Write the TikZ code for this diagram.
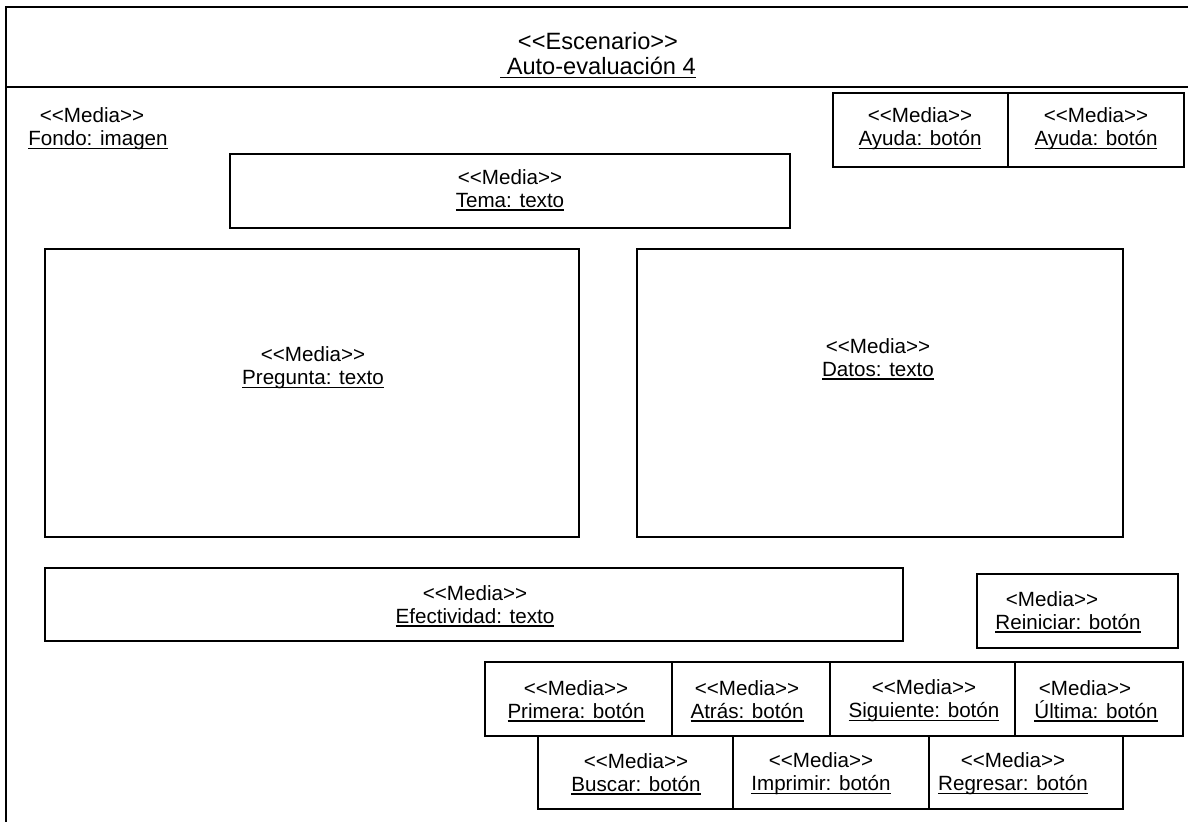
\documentclass[tikz,border=0pt]{standalone}
\usepackage{fontspec}
\setmainfont{Liberation Sans}[Ligatures=TeXOff]
\usetikzlibrary{fit}
% stereotype label and underlined element name
\newcommand{\stereo}{<<Media>>}
\newcommand{\elname}[1]{\setbox0\hbox{#1}\rlap{\rule[-1.7pt]{\wd0}{0.6pt}}\box0}
\begin{document}
\begin{tikzpicture}[x=0.5pt,y=-0.5pt,
  frame/.style={draw=black, line width=1pt},
  box/.style={draw=black, line width=0.9pt, inner sep=0pt, rectangle},
  txt/.style={align=center, inner sep=0pt, font=\fontsize{10.3}{11.5}\selectfont},
  head/.style={align=center, inner sep=0pt, font=\fontsize{11.8}{12.5}\selectfont}]
\useasboundingbox (0,0) rectangle (1188,822);
\clip (0,0) rectangle (1188,822);

% stage frame and its title bar
\draw[frame] (6,7) rectangle (1210,840);
\draw[frame] (6,87) -- (1210,87);
\node[head] (escenario) at (598,55) {<<Escenario>>\\ \elname{~Auto-evaluación 4}};

% background
\node[txt] (fondo) at (98,129) {\stereo\kern6pt\\ \elname{Fondo: imagen}};

% help buttons
\node[box, fit={(833,93) (1008,167)}] (ayuda1) {};
\node[box, fit={(1008,93) (1184,167)}] (ayuda2) {};
\node[txt] (ayuda1t) at (920,129) {\stereo\\ \elname{Ayuda: botón}};
\node[txt] (ayuda2t) at (1096,129) {\stereo\\ \elname{Ayuda: botón}};

% topic
\node[box, fit={(230,154) (790,228)}] (tema) {};
\node[txt] (temat) at (510,190) {\stereo\\ \elname{Tema: texto}};

% question and data panels
\node[box, fit={(45,249) (579,537)}] (pregunta) {};
\node[txt] (preguntat) at (313,368) {\stereo\\ \elname{Pregunta: texto}};
\node[box, fit={(637,249) (1123,537)}] (datos) {};
\node[txt] (datost) at (878,359) {\stereo\\ \elname{Datos: texto}};

% effectiveness and restart
\node[box, fit={(45,568) (903,641)}] (efect) {};
\node[txt] (efectt) at (475,606) {\stereo\\ \elname{Efectividad: texto}};
\node[box, fit={(977,574) (1178,648)}] (reini) {};
\node[txt] (reinit) at (1068,612) {<Media>>\kern16pt\\ \elname{Reiniciar: botón}};

% navigation buttons, first row
\node[box, fit={(485,662) (672,736)}] (primera) {};
\node[box, fit={(672,662) (830,736)}] (atras) {};
\node[box, fit={(830,662) (1015,736)}] (siguiente) {};
\node[box, fit={(1015,662) (1183,736)}] (ultima) {};
\node[txt] (primerat) at (576,701) {\stereo\\ \elname{Primera: botón}};
\node[txt] (atrast) at (747,701) {\stereo\\ \elname{Atrás: botón}};
\node[txt] (siguientet) at (924,701) {\stereo\\ \elname{Siguiente: botón}};
\node[txt] (ultimat) at (1096,701) {<Media>>\kern11pt\\ \elname{Última: botón}};

% navigation buttons, second row
\node[box, fit={(538,736) (733,809)}] (buscar) {};
\node[box, fit={(733,736) (929,809)}] (imprimir) {};
\node[box, fit={(929,736) (1123,809)}] (regresar) {};
\node[txt] (buscart) at (636,774) {\stereo\\ \elname{Buscar: botón}};
\node[txt] (imprimirt) at (821,774) {\stereo\\ \elname{Imprimir: botón}};
\node[txt] (regresart) at (1013,774) {\stereo\\ \elname{Regresar: botón}};
\end{tikzpicture}
\end{document}
